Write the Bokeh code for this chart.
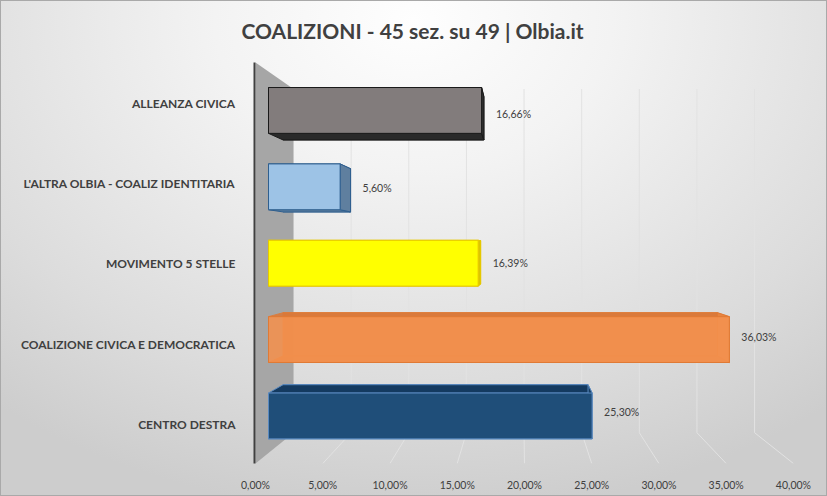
from bokeh.plotting import figure
from bokeh.models import FixedTicker, Range1d, Title
from bokeh.embed import file_html
from bokeh.resources import INLINE
from bokeh.core.properties import value

# ---------------- data ----------------
title_text = "COALIZIONI - 45 sez. su 49 | Olbia.it"
categories = ["CENTRO DESTRA", "COALIZIONE CIVICA E DEMOCRATICA", "MOVIMENTO 5 STELLE",
              "L'ALTRA OLBIA - COALIZ IDENTITARIA", "ALLEANZA CIVICA"]
values = [25.30, 36.03, 16.39, 5.60, 16.66]
value_labels = ["25,30%", "36,03%", "16,39%", "5,60%", "16,66%"]
x_ticks = [0, 5, 10, 15, 20, 25, 30, 35, 40]
x_tick_labels = ["0,00%", "5,00%", "10,00%", "15,00%", "20,00%", "25,00%", "30,00%", "35,00%", "40,00%"]

# ---------------- styles ----------------
front_colors = ["#1f4e79", "#f4914d", "#ffff00", "#9dc3e6", "#827c7c"]
cap_colors = ["#143a60", "#d9793a", "#d6c200", "#5f7f9f", "#2a2a2a"]
end_colors = ["#163d63", "#e8843f", "#d9c600", "#5f7f9f", "#333333"]
line_colors = ["#5a8ac0", "#e07a35", "#e6c800", "#2f5f8f", "#1a1a1a"]
alphas = [1.0, 0.88, 1.0, 1.0, 1.0]
TXT = "#404040"

# simple perspective projection (value, depth, row) -> plot coordinates
VC, IC, SHRINK = 19.78, 2.2, 0.143
D_FRONT, D_BACK, HALF = 0.342, 0.724, 0.3


def proj(v, d, i):
    s = 1 - SHRINK * d
    return VC + (v - VC) * s, IC + (i - IC) * s


X0, X1 = -0.074, 41.64
Y0, Y1 = -0.4845, 4.509

p = figure(width=827, height=496, x_range=Range1d(X0, X1), y_range=Range1d(Y0, Y1),
           output_backend="svg", toolbar_location=None,
           min_border_left=254, min_border_right=12, min_border_top=61, min_border_bottom=33)
p.background_fill_alpha = 0
p.border_fill_alpha = 0
p.outline_line_color = None
p.styles = {
    "background": "radial-gradient(ellipse 80% 100% at 50% 4%, #fefefe 0%, #f3f3f3 30%, #dcdcdc 75%, #cdcdcd 100%)",
    "box-shadow": "inset 0 0 0 1px #a9a9a9",
}
p.xgrid.visible = False
p.ygrid.visible = False

# back wall gridlines + floor diagonals
gx, gy = [], []
for t in x_ticks[1:]:
    a = proj(t, 1, Y1)
    b = proj(t, 1, Y0)
    c = proj(t, 0, Y0)
    gx.append([a[0], b[0], c[0]])
    gy.append([a[1], b[1], c[1]])
p.multi_line(gx, gy, line_color="#e2e2e2", line_width=1)

# left side wall
w = [proj(0, 0, Y1), proj(0, 1, Y1), proj(0, 1, Y0), proj(0, 0, Y0)]
p.patch([q[0] for q in w], [q[1] for q in w], fill_color="#a6a6a6", line_color=None)


def face(pts):
    return [q[0] for q in pts], [q[1] for q in pts]


# hidden/side faces first
for k, v in enumerate(values):
    i = k
    back = face([proj(0, D_BACK, i - HALF), proj(v, D_BACK, i - HALF),
                 proj(v, D_BACK, i + HALF), proj(0, D_BACK, i + HALF)])
    top = face([proj(0, D_FRONT, i + HALF), proj(v, D_FRONT, i + HALF),
                proj(v, D_BACK, i + HALF), proj(0, D_BACK, i + HALF)])
    bot = face([proj(0, D_FRONT, i - HALF), proj(v, D_FRONT, i - HALF),
                proj(v, D_BACK, i - HALF), proj(0, D_BACK, i - HALF)])
    end = face([proj(v, D_FRONT, i - HALF), proj(v, D_FRONT, i + HALF),
                proj(v, D_BACK, i + HALF), proj(v, D_BACK, i - HALF)])
    for (fx, fy), col in [(back, cap_colors[k]), (top, cap_colors[k]), (bot, cap_colors[k]), (end, end_colors[k])]:
        p.patch(fx, fy, fill_color=col, fill_alpha=alphas[k], line_color=line_colors[k],
                line_width=1, line_alpha=alphas[k])

# front faces
lefts, rights, tops, bottoms = [], [], [], []
for k, v in enumerate(values):
    l, b = proj(0, D_FRONT, k - HALF)
    r, t = proj(v, D_FRONT, k + HALF)
    lefts.append(l); rights.append(r); tops.append(t); bottoms.append(b)
p.quad(left=lefts, right=rights, top=tops, bottom=bottoms, fill_color=front_colors,
       fill_alpha=alphas, line_color=line_colors, line_width=1)

# value labels
lx, ly = [], []
for k, v in enumerate(values):
    xf, _ = proj(v, D_FRONT, k)
    xb, _ = proj(v, D_BACK, k)
    _, ym = proj(v, 0.5, k)
    lx.append(max(xf, xb)); ly.append(ym)
p.text(lx, ly, text=value_labels, x_offset=12, text_align="left", text_baseline="middle",
       text_font=value("Lato"), text_font_size="10.5px", text_color=TXT)

# axes
p.xaxis.ticker = FixedTicker(ticks=x_ticks)
p.xaxis.major_label_overrides = {t: s for t, s in zip(x_ticks, x_tick_labels)}
p.xaxis.axis_line_color = None
p.xaxis.major_tick_line_color = None
p.xaxis.minor_tick_line_color = None
p.xaxis.major_label_standoff = 9
p.xaxis.major_label_text_font = "Lato"
p.xaxis.major_label_text_font_size = "10.5px"
p.xaxis.major_label_text_color = TXT

p.yaxis.ticker = FixedTicker(ticks=list(range(len(categories))))
p.yaxis.major_label_overrides = {k: c for k, c in enumerate(categories)}
p.yaxis.axis_line_color = "#404040"
p.yaxis.axis_line_width = 2
p.yaxis.major_tick_line_color = None
p.yaxis.minor_tick_line_color = None
p.yaxis.major_label_standoff = 13
p.yaxis.major_label_text_font = "Lato"
p.yaxis.major_label_text_font_style = "bold"
p.yaxis.major_label_text_font_size = "12px"
p.yaxis.major_label_text_color = TXT

# title
p.add_layout(Title(text=title_text, align="left", offset=-13, standoff=35, vertical_align="top",
                   text_font="Lato", text_font_style="bold", text_font_size="21px",
                   text_color=TXT), "above")

open("out.html", "w").write(file_html(p, INLINE))
